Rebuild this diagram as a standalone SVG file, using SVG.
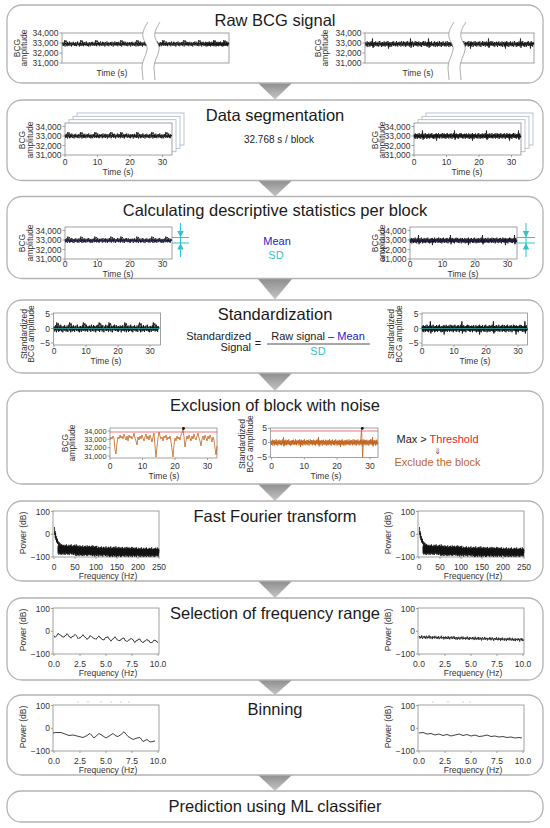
<svg xmlns="http://www.w3.org/2000/svg" xmlns:xlink="http://www.w3.org/1999/xlink" width="550" height="828" viewBox="0 0 550 828">
<style>
text{font-family:"Liberation Sans",Arial,sans-serif}
.panel{fill:#fff;stroke:#b3b3b3;stroke-width:1.3}
.ttl{font-size:16.5px;fill:#1a1a1a;text-anchor:middle}
.t8{font-size:8.5px;fill:#333}
.t7{font-size:7.3px;fill:#333}
.e{text-anchor:end}
.m{text-anchor:middle}
.fr{fill:#fff;stroke:#8a8a8a;stroke-width:0.8}
.tk{fill:none;stroke:#8a8a8a;stroke-width:0.8}
.sig{fill:none;stroke:#111;stroke-width:0.8;stroke-linejoin:round}
.org{fill:none;stroke:#c2631c;stroke-width:0.8;stroke-linejoin:round}
.pg{fill:#fff;stroke:#a8b6c6;stroke-width:0.8}
.cy{stroke:#2ec4c8;stroke-width:1;fill:none}
.cyf{fill:#2ec4c8}
.lbl{font-size:11px;fill:#222}
.arr{fill:url(#ag)}
</style>
<defs>
<linearGradient id="ag" x1="0" y1="0" x2="0" y2="1"><stop offset="0" stop-color="#8e8e8e"/><stop offset="1" stop-color="#c6c6c6"/></linearGradient>
<polyline id="nz" fill="none" vector-effect="non-scaling-stroke" points="0,0.2 1,-0.5 2,0.7 3,-0.1 4,0.4 5,-0.8 6,0.3 7,0.9 8,-0.4 9,0.1 10,-0.6 11,0.5 12,-0.2 13,0.8 14,-0.7 15,0 16,0.6 17,-0.3 18,0.4 19,-0.9 20,0.2 21,0.7 22,-0.5 23,0.1 24,-0.2 25,0.9 26,-0.6 27,0.3 28,-0.1 29,0.5 30,-0.8 31,0.4 32,0 33,-0.4 34,0.7 35,-0.3 36,0.6 37,-0.7 38,0.2 39,0.8 40,-0.2 41,0.1 42,-0.9 43,0.5 44,-0.1 45,0.3 46,-0.5 47,0.9 48,-0.3 49,0.2 50,-0.6 51,0.7 52,-0.4 53,0 54,0.6 55,-0.8 56,0.4 57,-0.2 58,0.8 59,-0.5 60,0.1 61,0.3 62,-0.7 63,0.6 64,-0.1 65,0.2 66,-0.9 67,0.5 68,-0.3 69,0.7 70,0 71,-0.5 72,0.9 73,-0.2 74,0.4 75,-0.6 76,0.1 77,0.8 78,-0.4 79,0.3 80,-0.7 81,0.2 82,0.6 83,-0.8 84,0.5 85,-0.1 86,0.3 87,-0.5 88,0.7 89,-0.2 90,0.4 91,-0.9 92,0.1 93,0.6 94,-0.3 95,0.8 96,-0.6 97,0.2 98,-0.4 99,0"/>
<polyline id="bp" fill="none" vector-effect="non-scaling-stroke" points="0,0 0.8,-4 1.6,-2 2.4,-3.4 3.2,-1.2 4.2,0.6 5,0"/>
<polyline id="sp" fill="none" vector-effect="non-scaling-stroke" points="0,0 0.5,-5.5 1,3.8 1.6,0"/>
<polyline id="dn" fill="none" vector-effect="non-scaling-stroke" points="0,0 0.5,4.6 1,-1.4 1.5,0"/>
<g id="sigA">
<use href="#nz" transform="scale(0.36,2.8)"/>
<use href="#nz" transform="translate(35.5,0) scale(0.36,-2.8)"/>
<use href="#nz" transform="translate(71,0) scale(0.36,2.8)"/>
<use href="#bp" x="2"/><use href="#bp" x="15"/><use href="#bp" x="29"/><use href="#bp" x="45"/><use href="#bp" x="55"/><use href="#bp" x="71"/><use href="#bp" x="86"/><use href="#bp" x="100"/>
</g>
<g id="sigB">
<use href="#nz" transform="scale(0.27,3.2)"/>
<use href="#nz" transform="translate(26.7,0) scale(0.27,-3.2)"/>
<use href="#nz" transform="translate(53.4,0) scale(0.27,3.2)"/>
<use href="#nz" transform="translate(80.1,0) scale(0.27,-3.2)"/>
<use href="#sp" x="8"/><use href="#dn" x="22"/><use href="#sp" x="40"/><use href="#dn" x="58"/><use href="#sp" x="72"/><use href="#dn" x="95"/><use href="#sp" x="104"/>
</g>
<g id="brk">
<path fill="#fff" d="M148,22 C144,28 142,33 143,37 C144,42 148,45 147,50 C146,56 142,61 142,67 C142,72 143,76 143,80 L155,80 C155,76 154,72 154,67 C154,61 158,56 159,50 C160,45 156,42 155,37 C154,33 156,28 160,22 Z"/>
<path fill="none" stroke="#8a8a8a" stroke-width="0.7" d="M148,22 C144,28 142,33 143,37 C144,42 148,45 147,50 C146,56 142,61 142,67 C142,72 143,76 143,80 M160,22 C156,28 154,33 155,37 C156,42 160,45 159,50 C158,56 154,61 154,67 C154,72 155,76 155,80"/>
</g>
<g id="axF">
<rect class="fr" x="0" y="0" width="106" height="46"/>
<path class="tk" d="M-2,0.5H0M-2,23.3H0M-2,46H0M1,46v2M22,46v2M43,46v2M64,46v2M85,46v2M106,46v2"/>
<text class="t8 e" x="-3" y="3.5">100</text>
<text class="t8 e" x="-3" y="26.3">0</text>
<text class="t8 e" x="-3" y="49">−100</text>
<text class="t8 m" x="1" y="58.5">0</text>
<text class="t8 m" x="22" y="58.5">50</text>
<text class="t8 m" x="43" y="58.5">100</text>
<text class="t8 m" x="64" y="58.5">150</text>
<text class="t8 m" x="85" y="58.5">200</text>
<text class="t8 m" x="106" y="58.5">250</text>
<text class="t8 m" x="55" y="67.5">Frequency (Hz)</text>
<text class="t8 m" transform="translate(-27,22) rotate(-90)">Power (dB)</text>
</g>
<g id="axS">
<rect class="fr" x="0" y="0" width="106" height="46"/>
<path class="tk" d="M-2,0.5H0M-2,23.3H0M-2,46H0M1,46v2M27,46v2M53,46v2M79,46v2M105,46v2"/>
<text class="t8 e" x="-3" y="3.5">100</text>
<text class="t8 e" x="-3" y="26.3">0</text>
<text class="t8 e" x="-3" y="49">−100</text>
<text class="t8 m" x="1" y="58.5">0.0</text>
<text class="t8 m" x="27" y="58.5">2.5</text>
<text class="t8 m" x="53" y="58.5">5.0</text>
<text class="t8 m" x="79" y="58.5">7.5</text>
<text class="t8 m" x="105" y="58.5">10.0</text>
<text class="t8 m" x="55" y="67.5">Frequency (Hz)</text>
<text class="t8 m" transform="translate(-27,22) rotate(-90)">Power (dB)</text>
</g>
<g id="fftS" class="sig">
<polyline points="1.5,16 1.8,24 2,20 2.3,27 2.6,22 2.9,29 3.2,25 3.5,31 3.8,27 4.1,32 4.4,28 4.7,33 5,30 5.5,35 6,31 6.5,36 7,32 7.5,37 8,33 9,38 10,34 11,39 12,35 13,40 14,36 16,40 18,37 20,41"/>
<use href="#nz" transform="translate(5,37) scale(0.2,4)"/>
<use href="#nz" transform="translate(24.8,38) scale(0.2,-4)"/>
<use href="#nz" transform="translate(44.6,39) scale(0.2,4)"/>
<use href="#nz" transform="translate(64.4,39.5) scale(0.2,-4)"/>
<use href="#nz" transform="translate(84.2,40) scale(0.22,4)"/>
<use href="#nz" transform="translate(5,40) scale(0.17,-4.5)"/>
<use href="#nz" transform="translate(21.8,41) scale(0.17,4.5)"/>
<use href="#nz" transform="translate(38.6,41.5) scale(0.17,-4.5)"/>
<use href="#nz" transform="translate(55.4,42) scale(0.17,4.5)"/>
<use href="#nz" transform="translate(72.2,42) scale(0.17,-4.5)"/>
<use href="#nz" transform="translate(89,42) scale(0.17,4.5)"/>
</g>
</defs>

<rect width="550" height="828" fill="#fff"/>

<g id="connectors">
<polygon class="arr" points="258,83 292,83 275,99.5"/>
<polygon class="arr" points="258,180.5 292,180.5 275,196.5"/>
<polygon class="arr" points="258,279 292,279 275,299.5"/>
<polygon class="arr" points="258,373 292,373 275,391"/>
<polygon class="arr" points="258,484 292,484 275,501"/>
<polygon class="arr" points="258,581 292,581 275,598"/>
<polygon class="arr" points="258,680 292,680 275,695"/>
<polygon class="arr" points="258,775 292,775 275,791"/>
</g>

<g id="panel-raw">
<rect class="panel" x="7" y="5" width="536" height="78" rx="15"/>
<text class="ttl" x="275" y="26">Raw BCG signal</text>
<g id="raw-left">
<rect class="fr" x="62" y="33" width="167" height="30"/>
<g class="sig">
<use href="#nz" transform="translate(62.5,44) scale(0.36,2.8)"/>
<use href="#nz" transform="translate(98,44) scale(0.36,-2.8)"/>
<use href="#nz" transform="translate(133.5,44) scale(0.36,2.8)"/>
<use href="#nz" transform="translate(169,44) scale(0.36,-2.8)"/>
<use href="#nz" transform="translate(204.5,44) scale(0.245,2.8)"/>
<use href="#bp" x="64" y="44"/><use href="#bp" x="80" y="44"/><use href="#bp" x="95" y="44"/><use href="#bp" x="120" y="44"/><use href="#bp" x="136" y="44"/><use href="#bp" x="162" y="44"/><use href="#bp" x="183" y="44"/><use href="#bp" x="198" y="44"/><use href="#bp" x="213" y="44"/><use href="#bp" x="223" y="44"/>
</g>
<use href="#brk"/>
<path class="tk" d="M59.5,33H62M59.5,43H62M59.5,53H62M59.5,63H62"/>
<text class="t8 e" x="58.5" y="36">34,000</text>
<text class="t8 e" x="58.5" y="46">33,000</text>
<text class="t8 e" x="58.5" y="56">32,000</text>
<text class="t8 e" x="58.5" y="66">31,000</text>
<text class="t8 m" transform="translate(19.5,48) rotate(-90)">BCG</text>
<text class="t8 m" transform="translate(27,48) rotate(-90)">amplitude</text>
<text class="t8 m" x="112" y="76">Time (s)</text>
</g>
<g id="raw-right">
<rect class="fr" x="365" y="33" width="169" height="30"/>
<g class="sig">
<use href="#nz" transform="translate(365.5,44) scale(0.34,3.3)"/>
<use href="#nz" transform="translate(399.2,44) scale(0.34,-3.3)"/>
<use href="#nz" transform="translate(432.9,44) scale(0.34,3.3)"/>
<use href="#nz" transform="translate(466.6,44) scale(0.34,-3.3)"/>
<use href="#nz" transform="translate(500.3,44) scale(0.34,3.3)"/>
<use href="#sp" x="372" y="44"/><use href="#dn" x="388" y="44"/><use href="#sp" x="410" y="44"/><use href="#sp" x="428" y="44"/><use href="#dn" x="470" y="44"/><use href="#sp" x="488" y="44"/><use href="#dn" x="505" y="44"/><use href="#sp" x="520" y="44"/><use href="#dn" x="530" y="44"/>
</g>
<use href="#brk" x="306"/>
<path class="tk" d="M362.5,33H365M362.5,43H365M362.5,53H365M362.5,63H365"/>
<text class="t8 e" x="361.5" y="36">34,000</text>
<text class="t8 e" x="361.5" y="46">33,000</text>
<text class="t8 e" x="361.5" y="56">32,000</text>
<text class="t8 e" x="361.5" y="66">31,000</text>
<text class="t8 m" transform="translate(320.5,48) rotate(-90)">BCG</text>
<text class="t8 m" transform="translate(328,48) rotate(-90)">amplitude</text>
<text class="t8 m" x="418" y="76">Time (s)</text>
</g>
</g>

<g id="panel-segmentation">
<rect class="panel" x="7" y="100" width="536" height="80.5" rx="15"/>
<text class="ttl" x="275" y="121">Data segmentation</text>
<text x="279" y="143" font-size="10" fill="#222" text-anchor="middle">32.768 s / block</text>
<g id="seg-left">
<rect class="pg" x="77" y="113" width="107" height="32"/>
<rect class="pg" x="73" y="116.3" width="107" height="32"/>
<rect class="pg" x="69" y="119.7" width="107" height="32"/>
<rect class="fr" x="65" y="123" width="107" height="32"/>
<g class="sig"><use href="#sigA" x="65" y="136"/></g>
<path class="tk" d="M62.5,126.5H65M62.5,136H65M62.5,145.5H65M62.5,155H65M65,155v2M97.5,155v2M130,155v2M162.5,155v2"/>
<text class="t8 e" x="61.5" y="129.5">34,000</text>
<text class="t8 e" x="61.5" y="139">33,000</text>
<text class="t8 e" x="61.5" y="148.5">32,000</text>
<text class="t8 e" x="61.5" y="158">31,000</text>
<text class="t8 m" x="65" y="164.5">0</text>
<text class="t8 m" x="97.5" y="164.5">10</text>
<text class="t8 m" x="130" y="164.5">20</text>
<text class="t8 m" x="162.5" y="164.5">30</text>
<text class="t8 m" x="118" y="174.5">Time (s)</text>
<text class="t8 m" transform="translate(25,140) rotate(-90)">BCG</text>
<text class="t8 m" transform="translate(32.5,140) rotate(-90)">amplitude</text>
</g>
<g id="seg-right">
<rect class="pg" x="426" y="113" width="107" height="32"/>
<rect class="pg" x="422" y="116.3" width="107" height="32"/>
<rect class="pg" x="418" y="119.7" width="107" height="32"/>
<rect class="fr" x="414" y="123" width="107" height="32"/>
<g class="sig"><use href="#sigB" x="414" y="136"/></g>
<path class="tk" d="M411.5,126.5H414M411.5,136H414M411.5,145.5H414M411.5,155H414M414,155v2M446.5,155v2M479,155v2M511.5,155v2"/>
<text class="t8 e" x="410.5" y="129.5">34,000</text>
<text class="t8 e" x="410.5" y="139">33,000</text>
<text class="t8 e" x="410.5" y="148.5">32,000</text>
<text class="t8 e" x="410.5" y="158">31,000</text>
<text class="t8 m" x="414" y="164.5">0</text>
<text class="t8 m" x="446.5" y="164.5">10</text>
<text class="t8 m" x="479" y="164.5">20</text>
<text class="t8 m" x="511.5" y="164.5">30</text>
<text class="t8 m" x="467" y="174.5">Time (s)</text>
<text class="t8 m" transform="translate(377.5,140) rotate(-90)">BCG</text>
<text class="t8 m" transform="translate(385,140) rotate(-90)">amplitude</text>
</g>
</g>

<g id="panel-statistics">
<rect class="panel" x="7" y="196.5" width="536" height="82" rx="15"/>
<text class="ttl" x="275" y="216">Calculating descriptive statistics per block</text>
<text class="lbl" x="277" y="245" text-anchor="middle" style="fill:#2323c4">Mean</text>
<text class="lbl" x="276" y="259" text-anchor="middle" style="fill:#2ec4c8">SD</text>
<g id="stat-left">
<rect class="fr" x="65" y="227" width="107" height="32"/>
<g class="sig"><use href="#sigA" x="65" y="240.5"/></g>
<path d="M65,240H172" stroke="#2a2ad0" stroke-width="0.6" opacity="0.8"/>
<path class="cy" d="M172,237.5H189M172,243H189M180.5,223V257"/>
<polygon class="cyf" points="177.3,231 183.7,231 180.5,237.5"/>
<polygon class="cyf" points="177.3,249.5 183.7,249.5 180.5,243"/>
<path class="tk" d="M62.5,230.5H65M62.5,240H65M62.5,249.5H65M62.5,259H65M65,259v2M97.5,259v2M130,259v2M162.5,259v2"/>
<text class="t8 e" x="61.5" y="233.5">34,000</text>
<text class="t8 e" x="61.5" y="243">33,000</text>
<text class="t8 e" x="61.5" y="252.5">32,000</text>
<text class="t8 e" x="61.5" y="262">31,000</text>
<text class="t8 m" x="65" y="267">0</text>
<text class="t8 m" x="97.5" y="267">10</text>
<text class="t8 m" x="130" y="267">20</text>
<text class="t8 m" x="162.5" y="267">30</text>
<text class="t8 m" x="118" y="276.5">Time (s)</text>
<text class="t8 m" transform="translate(25,243) rotate(-90)">BCG</text>
<text class="t8 m" transform="translate(32.5,243) rotate(-90)">amplitude</text>
</g>
<g id="stat-right">
<rect class="fr" x="410" y="227" width="107" height="32"/>
<g class="sig"><use href="#sigB" x="410" y="240.5"/></g>
<path d="M410,240H517" stroke="#2a2ad0" stroke-width="0.6" opacity="0.8"/>
<path class="cy" d="M517,237.5H535M517,243H535M526,223V257"/>
<polygon class="cyf" points="522.8,231 529.2,231 526,237.5"/>
<polygon class="cyf" points="522.8,249.5 529.2,249.5 526,243"/>
<path class="tk" d="M407.5,230.5H410M407.5,240H410M407.5,249.5H410M407.5,259H410M410,259v2M442.5,259v2M475,259v2M507.5,259v2"/>
<text class="t8 e" x="406.5" y="233.5">34,000</text>
<text class="t8 e" x="406.5" y="243">33,000</text>
<text class="t8 e" x="406.5" y="252.5">32,000</text>
<text class="t8 e" x="406.5" y="262">31,000</text>
<text class="t8 m" x="410" y="267">0</text>
<text class="t8 m" x="442.5" y="267">10</text>
<text class="t8 m" x="475" y="267">20</text>
<text class="t8 m" x="507.5" y="267">30</text>
<text class="t8 m" x="463" y="276.5">Time (s)</text>
<text class="t8 m" transform="translate(377.5,243) rotate(-90)">BCG</text>
<text class="t8 m" transform="translate(385,243) rotate(-90)">amplitude</text>
</g>
</g>

<g id="panel-standardization">
<rect class="panel" x="7" y="300" width="536" height="73" rx="15"/>
<text class="ttl" x="275" y="320">Standardization</text>
<text class="lbl" x="251" y="340" text-anchor="end">Standardized</text>
<text class="lbl" x="251" y="351" text-anchor="end">Signal</text>
<text class="lbl" x="258" y="347" text-anchor="middle">=</text>
<text class="lbl" x="318" y="340" text-anchor="middle">Raw signal – <tspan style="fill:#2323c4">Mean</tspan></text>
<path d="M267,344H370" stroke="#222" stroke-width="0.8"/>
<text class="lbl" x="318" y="354.5" text-anchor="middle" style="fill:#2ec4c8">SD</text>
<g id="std-left">
<rect class="fr" x="53.5" y="313" width="107" height="32"/>
<g class="sig" style="stroke-width:0.9"><use href="#sigA" transform="translate(54,328.5) scale(0.985,1.5)"/></g>
<path d="M54,328.5H160.5" stroke="#2ec4c8" stroke-width="0.8" opacity="0.85"/>
<path class="tk" d="M51,314H53.5M51,328.5H53.5M51,343H53.5M54,345v2M86,345v2M118,345v2M150,345v2"/>
<text class="t8 e" x="50" y="317.3">5</text>
<text class="t8 e" x="50" y="331.5">0</text>
<text class="t8 e" x="50" y="346">−5</text>
<text class="t8 m" x="54" y="353.5">0</text>
<text class="t8 m" x="86" y="353.5">10</text>
<text class="t8 m" x="118" y="353.5">20</text>
<text class="t8 m" x="150" y="353.5">30</text>
<text class="t8 m" x="106" y="363.5">Time (s)</text>
<text class="t8 m" transform="translate(26.5,334) rotate(-90)">Standardized</text>
<text class="t8 m" transform="translate(34,334) rotate(-90)">BCG amplitude</text>
</g>
<g id="std-right">
<rect class="fr" x="422" y="313" width="105.5" height="32"/>
<g class="sig" style="stroke-width:0.9"><use href="#sigB" transform="translate(422,328.5) scale(0.985,1.3)"/></g>
<path d="M422,328.5H527.5" stroke="#2ec4c8" stroke-width="0.8" opacity="0.85"/>
<path class="tk" d="M419.5,314H422M419.5,328.5H422M419.5,343H422M422,345v2M454,345v2M486,345v2M518,345v2"/>
<text class="t8 e" x="418.5" y="317.3">5</text>
<text class="t8 e" x="418.5" y="331.5">0</text>
<text class="t8 e" x="418.5" y="346">−5</text>
<text class="t8 m" x="422" y="353.5">0</text>
<text class="t8 m" x="454" y="353.5">10</text>
<text class="t8 m" x="486" y="353.5">20</text>
<text class="t8 m" x="518" y="353.5">30</text>
<text class="t8 m" x="475" y="363.5">Time (s)</text>
<text class="t8 m" transform="translate(394,334) rotate(-90)">Standardized</text>
<text class="t8 m" transform="translate(401.5,334) rotate(-90)">BCG amplitude</text>
</g>
</g>

<g id="panel-exclusion">
<rect class="panel" x="7" y="391" width="536" height="93" rx="15"/>
<text class="ttl" x="275" y="411">Exclusion of block with noise</text>
<g id="excl-left">
<rect class="fr" x="110" y="428" width="107" height="30"/>
<path class="org" d="M110,440 L111,437 112,439 113,436 114,438 115,450 116,454 117,443 118,437 119,439 120,435 121,438 122,436 123,439 124,434 125,437 126,440 127,436 128,441 129,435 130,438 131,436 132,439 133,437 134,433 135,438 136,441 137,445 138,437 139,440 140,436 141,439 142,435 143,438 144,441 145,437 146,434 147,439 148,436 149,440 150,435 151,438 152,442 153,437 154,433 155,446 156,457 157,447 158,438 159,432 160,436 161,439 162,437 163,441 164,436 165,438 166,435 167,440 168,437 169,439 170,436 171,442 172,449 173,457 174,445 175,438 176,441 177,436 178,439 179,437 180,440 181,435 182,433 183,429 184,437 185,447 186,441 187,436 188,439 189,435 190,438 191,441 192,436 193,439 194,434 195,438 196,440 197,436 198,433 199,438 200,441 201,446 202,439 203,436 204,440 205,435 206,438 207,441 208,436 209,439 210,435 211,438 212,442 213,437 214,440 215,448 216,455 217,446"/>
<path d="M110,432H217" stroke="#e8505a" stroke-width="0.8"/>
<circle cx="183.5" cy="428.5" r="1.4" fill="#111"/>
<path class="tk" d="M107.5,431H110M107.5,439.3H110M107.5,447.7H110M107.5,456H110M110,458v2M142.5,458v2M175,458v2M207.5,458v2"/>
<text class="t7 e" x="106.5" y="433.6">34,000</text>
<text class="t7 e" x="106.5" y="441.9">33,000</text>
<text class="t7 e" x="106.5" y="450.3">32,000</text>
<text class="t7 e" x="106.5" y="458.6">31,000</text>
<text class="t8 m" x="110" y="469">0</text>
<text class="t8 m" x="142.5" y="469">10</text>
<text class="t8 m" x="175" y="469">20</text>
<text class="t8 m" x="207.5" y="469">30</text>
<text class="t8 m" x="164" y="478.5">Time (s)</text>
<text class="t8 m" transform="translate(67.5,443) rotate(-90)">BCG</text>
<text class="t8 m" transform="translate(75,443) rotate(-90)">amplitude</text>
</g>
<g id="excl-middle">
<rect class="fr" x="270.5" y="428" width="107.5" height="29.5"/>
<g class="org">
<use href="#nz" transform="translate(271,442.5) scale(0.27,3.5)"/>
<use href="#nz" transform="translate(297.7,442.5) scale(0.27,-3.5)"/>
<use href="#nz" transform="translate(324.4,442.5) scale(0.27,3.5)"/>
<use href="#nz" transform="translate(351.1,442.5) scale(0.27,-3.5)"/>
<use href="#sp" x="283" y="442.5"/><use href="#dn" x="300" y="442.5"/><use href="#sp" x="318" y="442.5"/><use href="#dn" x="340" y="442.5"/><use href="#sp" x="372" y="442.5"/>
<polyline points="360.5,442 361.6,428.8 362.6,457.3 363.6,440 364.6,443"/>
</g>
<path d="M270.5,431H378" stroke="#e8505a" stroke-width="0.8"/>
<circle cx="362.3" cy="428.3" r="1.4" fill="#111"/>
<path class="tk" d="M268,428.5H270.5M268,442.5H270.5M268,457H270.5M271.5,457.5v2M304.3,457.5v2M337,457.5v2M370,457.5v2"/>
<text class="t8 e" x="267" y="431.3">5</text>
<text class="t8 e" x="267" y="445.3">0</text>
<text class="t8 e" x="267" y="460.3">−5</text>
<text class="t8 m" x="271.5" y="469">0</text>
<text class="t8 m" x="304.3" y="469">10</text>
<text class="t8 m" x="337" y="469">20</text>
<text class="t8 m" x="370" y="469">30</text>
<text class="t8 m" x="326" y="478.5">Time (s)</text>
<text class="t8 m" transform="translate(245,444) rotate(-90)">Standardized</text>
<text class="t8 m" transform="translate(252.5,444) rotate(-90)">BCG amplitude</text>
</g>
<text class="lbl" x="437.5" y="443" text-anchor="middle">Max &gt; <tspan style="fill:#e3202c">Threshold</tspan></text>
<text x="437.5" y="453.5" text-anchor="middle" font-size="8" fill="#555" style="font-family:'DejaVu Sans',sans-serif">⇓</text>
<text class="lbl" x="437.5" y="466" text-anchor="middle" style="fill:#c0652a">Exclude the block</text>
</g>

<g id="panel-fft">
<rect class="panel" x="7" y="501" width="536" height="80" rx="15"/>
<text class="ttl" x="275" y="522">Fast Fourier transform</text>
<g id="fft-left"><use href="#axF" x="53" y="511"/><use href="#fftS" x="53" y="511"/></g>
<g id="fft-right"><use href="#axF" x="418" y="511"/><use href="#fftS" x="418" y="511"/></g>
</g>

<g id="panel-selection">
<rect class="panel" x="7" y="598" width="536" height="82" rx="15"/>
<text class="ttl" x="275" y="619">Selection of frequency range</text>
<g id="sel-left">
<use href="#axS" x="53" y="608"/>
<polyline class="sig" transform="translate(53,608)" points="1,27.7 2,29.4 3,28.2 4,27.7 5,25.4 6,26.1 7,27.2 8,27.1 9,28.8 10,28.7 11,29.3 12,27.6 13,27.5 14,25.6 15,26.8 16,28.6 17,28.9 18,30.2 19,28.5 20,28.5 21,27.9 22,26.3 23,27.5 24,28.4 25,30.7 26,29.7 27,30.2 28,28.7 29,28.3 30,26.6 31,28.3 32,29.1 33,29.9 34,31.5 35,30.1 36,29.9 37,27.6 38,28.1 39,29.2 40,29.4 41,30.9 42,30.4 43,31.4 44,29.8 45,29.1 46,27.9 47,29.8 48,29.8 49,31.5 50,31.3 51,32.2 52,30 53,29.3 54,29.5 55,28.7 56,31 57,31.6 58,33.2 59,31.5 60,31 61,30.1 62,28.7 63,30.6 64,31.1 65,32.6 66,32 67,33 68,31.1 69,31.1 70,30 71,30 72,32.6 73,32.7 74,33.8 75,32.4 76,32 77,31.7 78,30.1 79,31.3 80,31.5 81,33.6 82,34.5 83,32.7 84,33 85,31.3 86,31.3 87,31 88,33.4 89,33.7 90,34.9 91,33.2 92,33.1 93,32.5 94,31.2 95,32.9 96,32.6 97,34.6 98,34.6 99,34.6 100,33.7 101,31.9 102,32.7 103,32.5 104,34.2 105,34.2"/>
</g>
<g id="sel-right">
<use href="#axS" x="418" y="608"/>
<g class="sig">
<use href="#nz" transform="translate(419,637) rotate(1.5) scale(0.53,2)"/>
<use href="#nz" transform="translate(471.5,638.4) rotate(1.5) scale(0.53,-2)"/>
</g>
</g>
</g>

<g id="panel-binning">
<rect class="panel" x="7" y="695" width="536" height="80" rx="15"/>
<text class="ttl" x="275" y="715">Binning</text>
<g id="bin-left">
<path d="M77,702h2M87,702h2M100,702h2M110,702h2M120,702h2M128,702h2" stroke="#c4c4c4" stroke-width="0.8"/>
<use href="#axS" x="53" y="705"/>
<polyline class="sig" transform="translate(53,705)" points="0,28 3,27.5 8,27.5 12,29 16,30.5 20,30 24,31 30,32.5 34,30.5 37,28.5 41,33 46,28.5 50,31 53,33 57,30.5 60,28.5 63,31 65,31.5 68,29.5 71,26.7 75,31.5 80,34.5 84,33 87,32.5 90,36.5 94,34.5 97,37 100,36.5 102,36"/>
</g>
<g id="bin-right">
<path d="M432,702h2M447,702h2M462,702h2M469,702h2" stroke="#c4c4c4" stroke-width="0.8"/>
<use href="#axS" x="418" y="705"/>
<polyline class="sig" transform="translate(418,705)" points="1,28 5,27.5 9,29 13,28.5 17,30 21,29 25,30.5 29,29.5 33,31 37,30 41,29 45,30.5 49,29.5 53,31 57,30 61,31.5 65,31 69,30 73,31.5 77,31 81,32 85,31.5 89,32.5 93,32 97,33 101,32.5 104,33"/>
</g>
</g>

<g id="panel-prediction">
<rect class="panel" x="7" y="791" width="536" height="31" rx="14"/>
<text class="ttl" x="275" y="812">Prediction using ML classifier</text>
</g>
</svg>
